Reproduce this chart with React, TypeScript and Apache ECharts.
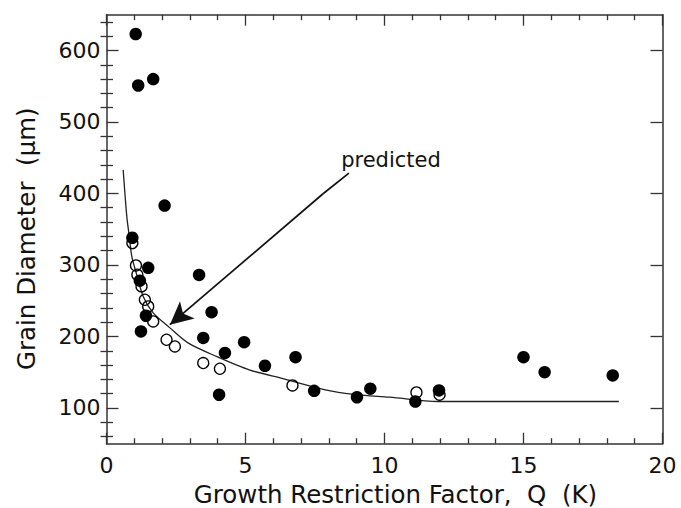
import React, { useEffect, useRef } from "react";
import * as echarts from "echarts";

// ---- axis ticks ----
const xMin = 0;
const xMax = 20;
const xInterval = 5;
const yMin = 50;
const yMax = 650;
const yMajorTicks = [100, 200, 300, 400, 500, 600];
const yMinorTicks = [60, 80, 120, 140, 160, 180, 220, 240, 260, 280, 320, 340, 360, 380, 420, 440, 460, 480, 520, 540, 560, 580, 620, 640];

// ---- measured grain sizes (filled circles) ----
const measuredFilled: [number, number][] = [
  [1.05, 623], [1.14, 551], [1.68, 560], [2.09, 383], [0.93, 338],
  [1.5, 296], [3.33, 286], [1.2, 278], [3.78, 234], [1.42, 229],
  [1.24, 207], [3.48, 198], [4.95, 192], [4.26, 177], [6.8, 171],
  [5.7, 159], [4.05, 118.5], [7.47, 124], [9.01, 115], [9.49, 127],
  [11.11, 109], [11.96, 124.5], [15.0, 171], [15.76, 150], [18.21, 145.5],
];

// ---- measured grain sizes (open circles) ----
const measuredOpen: [number, number][] = [
  [0.93, 330.6], [1.06, 299.3], [1.11, 286.3], [1.26, 270], [1.38, 251.3],
  [1.5, 242], [1.68, 221], [2.16, 195.4], [2.46, 186], [3.48, 162.8],
  [4.08, 154.8], [6.69, 131.5], [11.15, 121.7], [11.98, 118.5],
];

// ---- predicted curve ----
const predictedCurve: [number, number][] = [
  [0.6, 433], [0.73, 368], [0.82, 340], [0.91, 312], [1.09, 286],
  [1.32, 256], [1.68, 233], [2.28, 212], [2.93, 191], [3.96, 172],
  [5.16, 153], [6.35, 141], [7.79, 126], [8.99, 118.5], [10.19, 115],
  [11.92, 109], [18.43, 109],
];

// ---- annotation arrow (data coordinates) ----
const arrowStart: [number, number] = [8.72, 428.5];
const arrowKink: [number, number] = [7.79, 399.6];
const arrowTip: [number, number] = [2.28, 216.4];
const annotationText = "predicted";

const FONT = "DejaVu Sans";
const AXIS_COLOR = "#333";
const TEXT_COLOR = "#111";

export default function App() {
  const ref = useRef<HTMLDivElement>(null);

  useEffect(() => {
    if (!ref.current) return;
    const chart = echarts.init(ref.current, undefined, { renderer: "svg" });

    const baseX = {
      type: "value" as const,
      min: xMin,
      max: xMax,
      interval: xInterval,
      splitLine: { show: false },
      axisLine: { show: true, onZero: false, lineStyle: { color: AXIS_COLOR, width: 1.5 } },
      axisTick: { show: true, inside: true, length: 11, lineStyle: { color: AXIS_COLOR, width: 1.3 } },
      minorTick: { show: true, splitNumber: 5, length: 5.5, lineStyle: { color: AXIS_COLOR, width: 1.3 } },
      minorSplitLine: { show: false },
    };

    const baseY = {
      type: "value" as const,
      min: yMin,
      max: yMax,
      splitLine: { show: false },
    };

    const option: any = {
      animation: false,
      backgroundColor: "#fff",
      grid: {
        left: 106.5,
        top: 14.7,
        width: 556,
        height: 429,
        outerBoundsMode: "none",
        containLabel: false,
      },
      xAxis: [
        {
          ...baseX,
          position: "bottom",
          axisLabel: {
            show: true,
            margin: 11,
            fontFamily: FONT,
            fontSize: 22,
            color: TEXT_COLOR,
          },
          name: "Growth Restriction Factor,  Q  (K)",
          nameLocation: "middle",
          nameGap: 37,
          nameTextStyle: {
            fontFamily: FONT,
            fontSize: 24.5,
            color: TEXT_COLOR,
            padding: [0, 0, 0, 22],
          },
        },
        {
          ...baseX,
          position: "top",
          axisLabel: { show: false },
        },
      ],
      yAxis: [
        {
          ...baseY,
          position: "left",
          axisLine: { show: true, onZero: false, lineStyle: { color: AXIS_COLOR, width: 1.5 } },
          axisTick: {
            show: true,
            inside: true,
            length: 12,
            customValues: yMajorTicks,
            lineStyle: { color: AXIS_COLOR, width: 1.3 },
          },
          axisLabel: {
            show: true,
            customValues: yMajorTicks,
            margin: 6,
            fontFamily: FONT,
            fontSize: 22,
            color: TEXT_COLOR,
            padding: [8, 0, 0, 0],
          },
          name: "Grain Diameter  (µm)",
          nameLocation: "middle",
          nameGap: 68,
          nameRotate: 90,
          nameTextStyle: {
            fontFamily: FONT,
            fontSize: 24.5,
            color: TEXT_COLOR,
            padding: [0, 19, 0, 0],
          },
        },
        {
          ...baseY,
          position: "left",
          axisLine: { show: false },
          axisTick: {
            show: true,
            inside: true,
            length: 6.5,
            customValues: yMinorTicks,
            lineStyle: { color: AXIS_COLOR, width: 1.3 },
          },
          axisLabel: { show: false },
        },
        {
          ...baseY,
          position: "right",
          axisLine: { show: true, onZero: false, lineStyle: { color: AXIS_COLOR, width: 1.5 } },
          axisTick: {
            show: true,
            inside: true,
            length: 12,
            customValues: yMajorTicks,
            lineStyle: { color: AXIS_COLOR, width: 1.3 },
          },
          axisLabel: { show: false },
        },
        {
          ...baseY,
          position: "right",
          axisLine: { show: false },
          axisTick: {
            show: true,
            inside: true,
            length: 6,
            customValues: yMinorTicks,
            lineStyle: { color: AXIS_COLOR, width: 1.3 },
          },
          axisLabel: { show: false },
        },
      ],
      series: [
        {
          name: "predicted",
          type: "line",
          xAxisIndex: 0,
          yAxisIndex: 0,
          data: predictedCurve,
          showSymbol: false,
          symbol: "none",
          smooth: 0.3,
          lineStyle: { color: "#222", width: 1.3 },
          silent: true,
          z: 2,
          markLine: {
            silent: true,
            symbol: ["none", "arrow"],
            symbolSize: [17, 23],
            label: { show: false },
            lineStyle: { color: "#111", width: 1.7, type: "solid" },
            emphasis: { disabled: true },
            data: [
              [
                { coord: arrowStart, symbol: "none" },
                { coord: arrowKink, symbol: "none" },
              ],
              [
                { coord: arrowKink, symbol: "none" },
                { coord: arrowTip, symbol: "arrow" },
              ],
            ],
          },
        },
        {
          name: "open",
          type: "scatter",
          xAxisIndex: 0,
          yAxisIndex: 0,
          data: measuredOpen,
          symbol: "circle",
          symbolSize: 11,
          itemStyle: { color: "rgba(255,255,255,0)", borderColor: "#000", borderWidth: 1.3, opacity: 1 },
          silent: true,
          z: 3,
        },
        {
          name: "filled",
          type: "scatter",
          xAxisIndex: 0,
          yAxisIndex: 0,
          data: measuredFilled,
          symbol: "circle",
          symbolSize: 12.5,
          itemStyle: { color: "#000", opacity: 1 },
          silent: true,
          z: 4,
        },
      ],
      graphic: [
        {
          type: "text",
          x: 391,
          y: 160.4,
          style: {
            text: annotationText,
            fontFamily: FONT,
            fontSize: 21,
            fill: TEXT_COLOR,
            textAlign: "center",
            textVerticalAlign: "middle",
          },
          silent: true,
        },
      ],
    };

    chart.setOption(option);
    return () => {
      chart.dispose();
    };
  }, []);

  return (
    <div
      ref={ref}
      style={{
        position: "fixed",
        left: 0,
        top: 0,
        width: 681,
        height: 508,
        background: "#fff",
      }}
    />
  );
}
